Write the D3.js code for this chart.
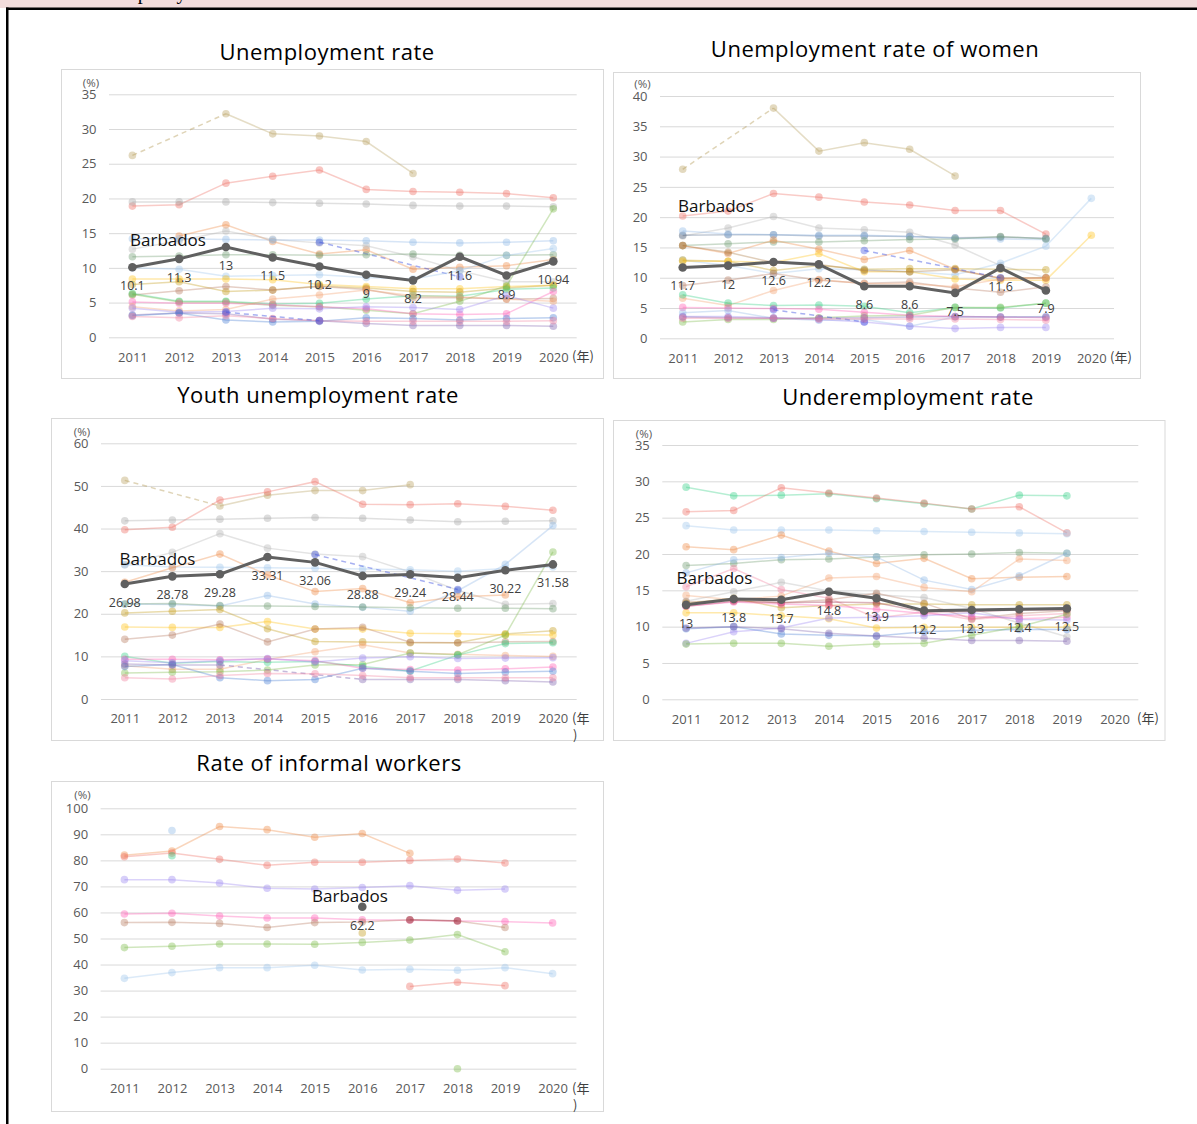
<!DOCTYPE html>
<html><head><meta charset="utf-8">
<script src="https://cdn.jsdelivr.net/npm/d3@7"></script>
<style>
body{margin:0;background:#fff;}
svg{display:block;}
</style></head><body>
<svg id="c" width="1197" height="1124"></svg>
<script>
// ---------- shared labels ----------
const years = [2011,2012,2013,2014,2015,2016,2017,2018,2019,2020];
const yearLabels = ["2011","2012","2013","2014","2015","2016","2017","2018","2019","2020"];
const unitLabel = "(年)";
const pctLabel = "(%)";
const barbadosName = "Barbados";
const titles = ["Unemployment rate","Unemployment rate of women","Youth unemployment rate","Underemployment rate","Rate of informal workers"];
const headerText = "capacity";

const palette = {
  khaki:'#b8a060', salmon:'#ee6f64', grey:'#a8a8a8', orange:'#ee8a45', grey2:'#b5b5b5',
  lightblue:'#8fb8e6', bluepurple:'#3c4fe0', greengrey:'#6f9c70', lightblue2:'#9ec5ec',
  yellow:'#ffc21a', gold:'#c29a1a', rose:'#b77a60', mint:'#35cf86', green:'#7dbb4a',
  pink:'#ff5cb5', lightorange:'#f3a06e', lavender:'#9a86f0', purple:'#8064b0',
  blue:'#4c7fd4', pink2:'#f0809d', bluegrey:'#5a6e8c', brown:'#a87840', darkrose:'#9e2f45', teal:'#3f8f8f'
};

// ---------- Panel 1: Unemployment rate ----------
const p1Ticks = [0,5,10,15,20,25,30,35];
const p1Barbados = [10.1,11.3,13,11.5,10.2,9,8.2,11.6,8.9,10.94];
const p1Series = [
  [26.2,null,32.2,29.3,29.0,28.2,23.6,null,null,null],
  [18.9,19.1,22.2,23.2,24.1,21.3,21.0,20.9,20.7,20.1],
  [19.5,19.5,19.5,19.4,19.3,19.2,19.0,18.9,18.9,18.8],
  [null,14.6,16.2,13.8,12.0,12.6,9.8,10.1,10.3,11.2],
  [12.7,13.9,15.3,14.1,13.6,13.2,11.6,9.6,8.0,8.0],
  [14.2,14.2,14.1,14.0,14.0,13.9,13.7,13.6,13.7,13.9],
  [null,null,null,null,13.7,null,null,8.7,null,null],
  [11.6,11.7,11.9,11.9,11.8,11.9,12.0,11.8,11.8,11.9],
  [10.0,9.8,8.8,8.9,9.0,8.6,8.4,9.6,11.8,12.8],
  [8.4,8.4,8.4,8.3,7.6,7.3,7.0,7.0,7.3,7.5],
  [7.6,8.0,6.6,6.8,7.4,7.1,6.6,6.5,7.1,7.5],
  [6.1,6.7,7.3,6.8,7.3,6.9,5.7,5.7,5.5,5.6],
  [6.3,5.2,5.2,4.8,4.9,5.5,6.0,5.9,6.9,7.1],
  [6.2,5.1,5.1,4.6,4.4,3.9,3.4,5.2,7.4,18.5],
  [5.1,4.9,4.9,4.7,4.4,4.1,3.4,3.3,3.4,6.6],
  [4.4,3.8,4.0,5.5,6.1,6.8,6.0,5.8,5.5,5.2],
  [4.2,3.6,3.7,4.2,4.1,4.4,4.3,4.0,6.0,4.2],
  [3.2,3.5,3.4,2.6,2.4,2.0,1.7,1.7,1.7,1.6],
  [3.1,3.5,2.5,2.2,2.3,2.8,2.7,2.5,2.7,2.8],
  [3.0,2.8,3.1,2.7,2.4,2.3,2.3,2.3,2.3,2.4],
  [null,null,3.6,null,2.4,null,null,null,null,null]
];
const p1Colors = ['khaki','salmon','grey','orange','grey2','lightblue','bluepurple','greengrey','lightblue2','yellow','gold','rose','mint','green','pink','lightorange','lavender','purple','blue','pink2','bluepurple'];

// ---------- Panel 2: Unemployment rate of women ----------
const p2Ticks = [0,5,10,15,20,25,30,35,40];
const p2Barbados = [11.7,12,12.6,12.2,8.6,8.6,7.5,11.6,7.9,null];
const p2Series = [
  [27.9,null,38.0,30.9,32.3,31.2,26.8,null,null,null],
  [20.2,21.0,23.9,23.3,22.5,22.0,21.1,21.1,17.2,null],
  [16.9,18.2,20.1,18.2,17.9,17.5,15.4,12.0,10.0,null],
  [17.0,17.1,17.1,16.9,16.9,16.8,16.6,16.7,16.5,null],
  [17.7,17.2,17.1,17.0,17.0,16.8,16.5,16.4,16.3,null],
  [12.9,12.0,10.7,11.5,11.3,11.0,10.5,12.4,15.2,23.1],
  [15.3,15.6,15.9,15.9,16.1,16.3,16.4,16.8,16.4,null],
  [15.3,14.0,16.2,14.7,13.0,14.5,11.4,9.9,10.0,null],
  [12.9,12.7,11.2,12.0,11.4,11.5,11.5,11.4,11.3,null],
  [12.7,12.7,12.5,14.0,11.0,11.0,9.8,9.6,9.6,17.0],
  [15.3,14.2,12.5,12.2,11.2,11.0,11.3,9.9,10.0,null],
  [8.7,9.6,10.7,9.6,9.1,9.3,8.3,7.6,8.5,null],
  [6.6,5.4,7.9,9.7,9.0,9.0,8.5,9.8,9.9,null],
  [7.2,5.8,5.4,5.5,5.3,4.2,5.1,5.0,5.8,null],
  [2.7,3.1,3.1,3.4,3.7,3.8,5.1,5.1,5.8,null],
  [5.1,5.0,4.9,4.8,4.3,3.8,3.6,3.5,3.4,null],
  [4.2,4.6,3.3,3.0,3.1,2.0,3.5,3.5,3.6,null],
  [3.6,3.6,3.4,3.1,2.7,2.0,1.6,1.8,1.8,null],
  [3.5,3.4,3.3,3.3,3.4,3.5,3.6,3.5,3.5,null],
  [null,null,null,null,14.5,null,null,10.0,null,null],
  [null,null,4.7,null,2.7,null,null,null,null,null],
  [3.3,3.3,3.3,3.2,3.2,3.2,3.2,3.1,3.0,null]
];
const p2Colors = ['khaki','salmon','grey2','bluegrey','lightblue','lightblue2','greengrey','orange','gold','yellow','brown','rose','lightorange','mint','green','pink','lightblue','lavender','purple','bluepurple','bluepurple','pink2'];

// ---------- Panel 3: Youth unemployment rate ----------
const p3Ticks = [0,10,20,30,40,50,60];
const p3Barbados = [26.98,28.78,29.28,33.31,32.06,28.88,29.24,28.44,30.22,31.58];
const p3Series = [
  [51.3,null,45.3,47.8,48.9,48.9,50.3,null,null,null],
  [39.7,40.3,46.7,48.6,51.0,45.7,45.6,45.8,45.2,44.3],
  [41.8,42.0,42.2,42.4,42.6,42.4,42.0,41.6,41.7,41.8],
  [31.5,34.4,38.8,35.4,34.0,33.4,29.8,25.5,22.2,22.4],
  [31.5,31.0,30.9,30.8,30.7,30.5,30.3,30.0,30.6,31.0],
  [22.3,22.2,21.8,24.3,22.3,21.5,20.6,25.4,31.6,40.7],
  [27.4,30.8,34.0,29.1,25.2,25.9,22.6,24.0,24.4,null],
  [null,null,null,null,33.9,null,null,25.7,null,null],
  [22.3,22.4,21.9,21.8,21.7,21.6,21.4,21.3,21.3,21.2],
  [20.2,20.6,21.0,16.5,13.5,13.4,13.2,13.2,15.3,16.0],
  [16.9,16.8,16.8,18.2,16.4,16.4,15.4,15.3,15.1,15.0],
  [14.0,15.0,17.6,13.4,16.4,16.8,13.3,13.2,13.4,13.5],
  [7.8,7.0,7.0,9.3,11.1,12.7,10.8,10.5,10.2,10.0],
  [6.1,6.3,6.4,6.8,8.0,8.1,10.8,10.4,15.0,34.5],
  [10.0,8.4,8.8,8.6,8.8,7.6,6.6,10.3,13.0,13.2],
  [9.3,9.3,9.2,9.4,9.0,7.2,6.9,6.8,7.1,7.5],
  [9.0,8.5,9.0,9.5,8.7,9.6,9.9,9.5,9.6,9.7],
  [7.6,8.1,5.0,4.3,4.6,7.2,6.5,6.0,6.3,6.5],
  [8.2,8.0,8.0,null,null,4.6,4.6,4.6,4.3,4.0],
  [5.0,4.7,5.5,6.0,5.9,5.5,5.0,5.0,5.0,5.0]
];
const p3Colors = ['khaki','salmon','grey','grey2','lightblue2','lightblue','orange','bluepurple','greengrey','gold','yellow','rose','lightorange','green','mint','pink','lavender','blue','purple','pink2'];

// ---------- Panel 4: Underemployment rate ----------
const p4Ticks = [0,5,10,15,20,25,30,35];
const p4Barbados = [13,13.8,13.7,14.8,13.9,12.2,12.3,12.4,12.5,null];
const p4Series = [
  [29.2,28.0,28.1,28.3,27.6,26.9,26.2,28.1,28.0,null],
  [25.8,26.0,29.1,28.4,27.7,27.0,26.2,26.5,22.9,null],
  [23.9,23.3,23.3,23.3,23.2,23.1,23.0,22.9,22.8,null],
  [21.0,20.6,22.6,20.4,18.7,19.4,16.6,16.8,16.9,null],
  [18.4,18.7,19.2,19.3,19.6,19.9,20.0,20.2,20.1,null],
  [17.4,19.2,19.5,20.1,19.6,16.4,15.1,17.0,20.1,null],
  [14.3,13.7,14.2,16.7,16.9,15.4,14.8,19.3,19.1,null],
  [15.5,18.0,15.1,13.9,11.2,12.0,11.0,11.5,11.8,null],
  [13.5,14.8,16.1,14.9,14.4,14.0,12.5,10.5,8.6,null],
  [13.4,13.6,13.3,13.7,14.6,13.2,11.1,11.8,12.2,null],
  [13.2,13.9,12.6,12.9,13.1,13.1,13.0,13.0,13.0,null],
  [12.8,13.5,13.3,13.4,13.3,12.0,12.1,12.3,12.3,null],
  [12.8,13.4,13.1,12.9,12.4,11.8,11.4,11.1,11.3,null],
  [11.9,11.9,11.5,11.1,9.8,9.9,9.9,9.9,9.9,null],
  [7.7,9.3,9.8,11.2,11.3,11.5,11.9,11.0,10.9,null],
  [9.7,10.0,9.0,8.8,8.7,9.3,9.5,9.6,9.6,null],
  [9.8,10.0,9.7,9.1,8.7,8.4,8.1,8.1,8.0,null],
  [7.6,7.7,7.7,7.3,7.6,7.7,8.8,10.0,11.7,null]
];
const p4Colors = ['mint','salmon','lightblue2','orange','greengrey','lightblue','lightorange','pink2','grey2','rose','gold','darkrose','pink','yellow','lavender','blue','purple','green'];

// ---------- Panel 5: Rate of informal workers ----------
const p5Ticks = [0,10,20,30,40,50,60,70,80,90,100];
const p5Barbados = [null,null,null,null,null,62.2,null,null,null,null];
const p5Series = [
  [82.0,83.6,93.0,91.8,88.9,90.3,82.7,null,null,null],
  [81.4,82.8,80.4,78.1,79.3,79.3,80.0,80.5,79.0,null],
  [null,91.5,null,null,null,null,null,null,null,null],
  [null,81.8,null,null,null,null,null,null,null,null],
  [72.6,72.6,71.3,69.3,69.0,69.6,70.3,68.5,69.0,null],
  [59.4,59.7,58.6,57.9,57.9,57.2,57.0,56.7,56.5,56.0],
  [56.1,56.2,55.8,54.2,56.1,56.3,57.2,56.7,54.2,null],
  [null,null,null,null,null,null,57.2,56.8,null,null],
  [null,null,null,null,null,52.1,null,null,null,null],
  [46.5,47.0,47.9,47.9,47.8,48.5,49.4,51.5,44.9,null],
  [34.7,36.9,38.8,38.8,39.7,37.9,38.2,37.8,38.8,36.5],
  [null,null,null,null,null,null,31.6,33.2,31.9,null],
  [null,null,null,null,null,null,null,0,null,null]
];
const p5Colors = ['orange','salmon','lightblue','mint','lavender','pink','rose','darkrose','gold','green','lightblue2','salmon','green'];

// ---------- drawing ----------
const svg = d3.select('#c');
const FONT = '"Open Sans", "Noto Sans", sans-serif';

// header strip
svg.append('rect').attr('x',0).attr('y',0).attr('width',1197).attr('height',8).attr('fill','#f2dcdb');
svg.append('clipPath').attr('id','hclip').append('rect').attr('x',0).attr('y',0).attr('width',1197).attr('height',7.5);
svg.append('text').attr('clip-path','url(#hclip)').attr('x',120).attr('y',-1)
  .attr('font-family','"Liberation Serif", serif').attr('font-size',20).attr('fill','#000').text(headerText);
svg.append('rect').attr('x',6).attr('y',7.5).attr('width',1191).attr('height',2.5).attr('fill','#000');
svg.append('rect').attr('x',6).attr('y',7.5).attr('width',2.5).attr('height',1116.5).attr('fill','#000');

function drawPanel(p) {
  const g = svg.append('g');
  g.append('rect').attr('x',p.box[0]).attr('y',p.box[1]).attr('width',p.box[2]).attr('height',p.box[3])
    .attr('fill','#fff').attr('stroke','#d9d9d9').attr('stroke-width',1);
  g.append('text').attr('x',p.title[0]).attr('y',p.title[1]).attr('text-anchor','middle')
    .attr('font-family',FONT).attr('font-size',22).attr('letter-spacing',0.5).attr('fill','#000').text(p.titleText);

  const x = d3.scalePoint().domain(years).range(p.gx).padding(0.5);
  const y = d3.scaleLinear().domain([0, p.max]).range(p.gy);

  const yg = g.append('g').attr('transform',`translate(${p.gx[0]},0)`)
    .call(d3.axisLeft(y).tickValues(p.ticks).tickSize(-(p.gx[1]-p.gx[0])).tickPadding(12.5));
  yg.attr('font-family',FONT).attr('font-size',13);
  yg.select('.domain').remove();
  yg.selectAll('.tick line').attr('stroke','#d9d9d9').attr('stroke-width',1);
  yg.selectAll('.tick text').attr('fill','#595959');

  const xg = g.append('g').attr('transform',`translate(0,${p.gy[0]})`)
    .call(d3.axisBottom(x).tickSize(0).tickPadding(15).tickFormat((d,i)=>yearLabels[i]));
  xg.attr('font-family',FONT).attr('font-size',13);
  xg.select('.domain').remove();
  xg.selectAll('.tick text').attr('fill','#595959');

  // (%) label
  g.append('text').attr('x',p.pct[0]).attr('y',p.pct[1]).attr('text-anchor','middle')
    .attr('font-family',FONT).attr('font-size',11.5).attr('fill','#595959').text(pctLabel);
  // (年) label
  const uy = p.gy[0] + 24;
  if (p.unitWrap) {
    g.append('text').attr('x',p.unitX).attr('y',uy).attr('font-family','"Noto Sans CJK JP", sans-serif')
      .attr('font-size',13).attr('fill','#404040').text(unitLabel.slice(0,2));
    g.append('text').attr('x',p.unitX+1).attr('y',uy+17).attr('font-family','"Noto Sans CJK JP", sans-serif')
      .attr('font-size',13).attr('fill','#404040').text(unitLabel.slice(2));
  } else {
    g.append('text').attr('x',p.unitX).attr('y',uy).attr('font-family','"Noto Sans CJK JP", sans-serif')
      .attr('font-size',13).attr('fill','#404040').text(unitLabel);
  }

  const sg = g.append('g');
  p.series.forEach((vals, si) => {
    const color = palette[p.colors[si]];
    const pts = vals.map((v,i)=>({i, v})).filter(d=>d.v!=null);
    const line = d3.line().defined(d=>d.v!=null).x(d=>x(years[d.i])).y(d=>y(d.v));
    sg.append('path').attr('d', line(vals.map((v,i)=>({i,v}))))
      .attr('fill','none').attr('stroke',color).attr('stroke-width',1.5).attr('stroke-opacity',0.36);
    for (let k=0;k<pts.length-1;k++) {
      if (pts[k+1].i - pts[k].i > 1) {
        sg.append('path').attr('d', d3.line().x(d=>x(years[d.i])).y(d=>y(d.v))([pts[k],pts[k+1]]))
          .attr('fill','none').attr('stroke',color).attr('stroke-width',1.5).attr('stroke-opacity',0.45)
          .attr('stroke-dasharray','5,4');
      }
    }
    sg.selectAll(null).data(pts).join('circle')
      .attr('cx',d=>x(years[d.i])).attr('cy',d=>y(d.v)).attr('r',3.8)
      .attr('fill',color).attr('fill-opacity',0.4);
  });

  // Barbados
  const bp = p.barbados.map((v,i)=>({i,v}));
  const bl = d3.line().defined(d=>d.v!=null).x(d=>x(years[d.i])).y(d=>y(d.v));
  g.append('path').attr('d', bl(bp)).attr('fill','none').attr('stroke','#606060').attr('stroke-width',3);
  const bpts = bp.filter(d=>d.v!=null);
  g.selectAll(null).data(bpts).join('circle')
    .attr('cx',d=>x(years[d.i])).attr('cy',d=>y(d.v)).attr('r',4.3).attr('fill','#606060');
  g.selectAll(null).data(bpts).join('text')
    .attr('x',d=>x(years[d.i])).attr('y',d=>y(d.v)+18.5).attr('text-anchor','middle').attr('dominant-baseline','central')
    .attr('font-family',FONT).attr('font-size',12.5).attr('fill','#404040').text(d=>String(d.v));
  g.append('text').attr('x',p.name[0]).attr('y',p.name[1]).attr('dominant-baseline','central')
    .attr('font-family',FONT).attr('font-size',17).attr('fill','#111').text(barbadosName);
}

drawPanel({titleText:titles[0], title:[327,59.5], box:[61.5,69.5,542,309], gx:[109,576.7], gy:[337.3,94.3], max:35,
  ticks:p1Ticks, series:p1Series, colors:p1Colors, barbados:p1Barbados, pct:[91,87], unitX:572, unitWrap:false, name:[130,239]});
drawPanel({titleText:titles[1], title:[875,57], box:[613.5,72.5,527,306], gx:[660,1114], gy:[338.3,96], max:40,
  ticks:p2Ticks, series:p2Series, colors:p2Colors, barbados:p2Barbados, pct:[642.5,88], unitX:1110, unitWrap:false, name:[678,205]});
drawPanel({titleText:titles[2], title:[318,403], box:[51.5,418.5,552,322], gx:[101,576.7], gy:[699,443.3], max:60,
  ticks:p3Ticks, series:p3Series, colors:p3Colors, barbados:p3Barbados, pct:[82,436], unitX:572, unitWrap:true, name:[119.5,558.3]});
drawPanel({titleText:titles[3], title:[908,405], box:[613.5,420.5,551.5,320], gx:[662.3,1138.3], gy:[699.3,445], max:35,
  ticks:p4Ticks, series:p4Series, colors:p4Colors, barbados:p4Barbados, pct:[644,438], unitX:1137, unitWrap:false, name:[676.5,577.7]});
drawPanel({titleText:titles[4], title:[329,771], box:[51.5,781.5,552,330], gx:[100.6,576.4], gy:[1068.7,808.3], max:100,
  ticks:p5Ticks, series:p5Series, colors:p5Colors, barbados:p5Barbados, pct:[82.5,799], unitX:572, unitWrap:true, name:[312,895]});
</script>
</body></html>
